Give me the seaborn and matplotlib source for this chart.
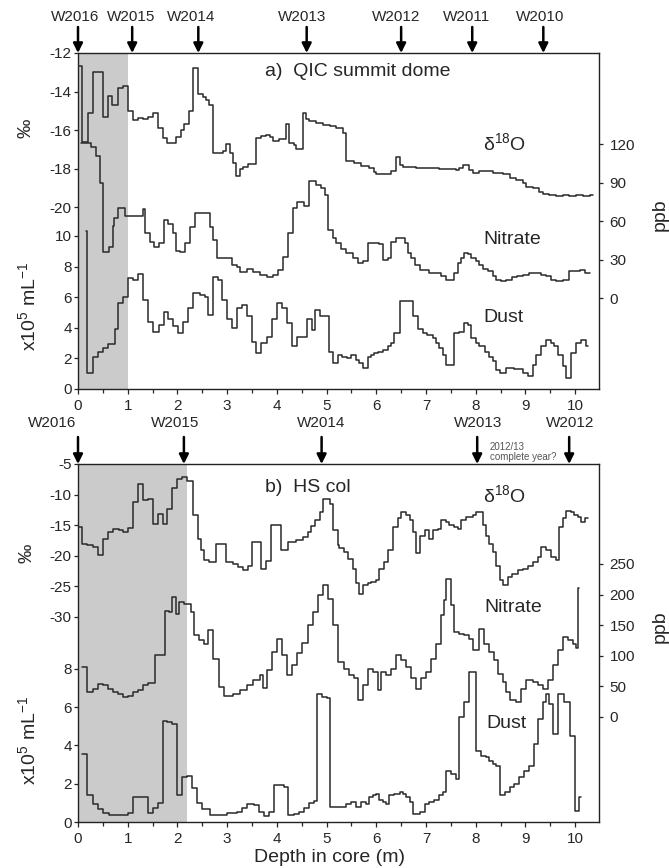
import numpy as np
import pandas as pd
import matplotlib
matplotlib.use('Agg')
import matplotlib.pyplot as plt
from matplotlib.ticker import MultipleLocator
import seaborn as sns

sns.set_style('ticks')
plt.rcParams['font.family'] = ['Liberation Sans', 'DejaVu Sans']
plt.rcParams['axes.unicode_minus'] = False
plt.rcParams['mathtext.default'] = 'regular'

# ---- a) QIC summit dome ----
qic_iso_depth = [0.00, 0.08, 0.20, 0.31, 0.51, 0.60, 0.68, 0.80, 0.90, 1.00, 1.10, 1.20, 1.30, 1.40, 1.50,
                 1.60, 1.70, 1.80, 1.97, 2.07, 2.14, 2.24, 2.31, 2.41, 2.51, 2.58, 2.64, 2.71, 2.91, 2.98,
                 3.05, 3.12, 3.18, 3.25, 3.31, 3.41, 3.58, 3.68, 3.78, 3.87, 3.93, 4.05, 4.19, 4.25, 4.35,
                 4.39, 4.52, 4.59, 4.65, 4.79, 4.92, 5.06, 5.19, 5.33, 5.39, 5.55, 5.69, 5.86, 5.96, 6.00,
                 6.30, 6.40, 6.47, 6.53, 6.80, 7.27, 7.60, 7.67, 7.74, 7.87, 7.94, 8.07, 8.34, 8.54, 8.68,
                 8.81, 8.95, 9.01, 9.15, 9.28, 9.35, 9.48, 9.62, 9.75, 9.88, 10.02, 10.15, 10.29]
qic_iso = [-12.7, -16.6, -15.1, -13.0, -15.3, -14.25, -14.7, -13.8, -13.7, -15.0, -15.5, -15.4, -15.45, -15.3, -15.1,
           -15.9, -16.4, -16.7, -16.35, -16.0, -15.7, -15.0, -12.8, -14.15, -14.3, -14.45, -14.7, -17.2, -17.1, -16.75,
           -17.2, -17.7, -18.4, -18.05, -17.9, -17.75, -16.4, -16.3, -16.25, -16.35, -16.55, -16.45, -15.7, -16.7, -16.8,
           -17.0, -15.1, -15.45, -15.55, -15.65, -15.72, -15.8, -15.9, -16.15, -17.6, -17.7, -17.85, -17.95, -18.2, -18.3,
           -18.15, -17.4, -17.8, -17.9, -17.95, -18.05, -18.1, -17.95, -17.8, -18.1, -18.25, -18.15, -18.25, -18.3, -18.5,
           -18.6, -18.75, -18.95, -19.0, -19.2, -19.3, -19.35, -19.45, -19.35, -19.45, -19.4, -19.45, -19.35]
qic_iso_end = 10.36

qic_no3_depth = [0.06, 0.26, 0.36, 0.44, 0.50, 0.63, 0.70, 0.73, 0.80, 0.95, 1.31, 1.35, 1.45, 1.53, 1.62,
                 1.72, 1.82, 1.92, 1.98, 2.05, 2.15, 2.25, 2.35, 2.65, 2.72, 2.79, 3.09, 3.19, 3.26, 3.39,
                 3.53, 3.66, 3.80, 3.93, 4.03, 4.13, 4.23, 4.33, 4.40, 4.55, 4.65, 4.79, 4.89, 4.96, 5.02,
                 5.12, 5.19, 5.29, 5.39, 5.53, 5.63, 5.73, 5.83, 6.06, 6.13, 6.23, 6.30, 6.40, 6.57, 6.63,
                 6.70, 6.77, 6.87, 7.07, 7.30, 7.40, 7.57, 7.64, 7.70, 7.77, 7.84, 7.91, 8.01, 8.07, 8.14,
                 8.24, 8.34, 8.41, 8.51, 8.61, 8.74, 8.84, 8.95, 9.08, 9.31, 9.41, 9.52, 9.62, 9.75, 9.88,
                 10.09, 10.19]
qic_no3 = [121, 118, 111, 90, 36, 40, 56, 62, 70, 64, 69, 51, 44, 40, 43,
           61, 58, 51, 37, 36, 43, 55, 66, 55, 45, 31, 26, 24, 20, 23,
           20, 18, 16, 18, 22, 32, 51, 70, 75, 72, 91, 88, 86, 80, 53,
           47, 43, 38, 35, 31, 27, 29, 43, 42, 30, 31, 44, 47, 43, 35,
           31, 26, 22, 19.5, 17, 14, 19.5, 27, 31, 35, 34, 31, 29, 26, 23,
           21, 17, 14, 13, 14, 16, 17, 18, 19.5, 18, 17, 14, 13, 14, 21,
           22, 19.5]
qic_no3_end = 10.29

qic_dust_depth = [0.17, 0.19, 0.31, 0.41, 0.51, 0.61, 0.74, 0.81, 0.91, 1.01, 1.11, 1.21, 1.31, 1.41, 1.51,
                  1.62, 1.72, 1.82, 1.92, 2.02, 2.12, 2.22, 2.32, 2.45, 2.55, 2.62, 2.72, 2.82, 2.89, 2.99,
                  3.09, 3.19, 3.29, 3.39, 3.49, 3.59, 3.69, 3.80, 3.90, 4.00, 4.10, 4.20, 4.30, 4.40, 4.60,
                  4.70, 4.77, 4.87, 5.05, 5.12, 5.22, 5.32, 5.42, 5.49, 5.59, 5.66, 5.73, 5.83, 5.90, 5.96,
                  6.03, 6.13, 6.23, 6.30, 6.36, 6.47, 6.73, 6.83, 6.93, 7.03, 7.14, 7.20, 7.27, 7.34, 7.40,
                  7.57, 7.67, 7.77, 7.84, 7.91, 8.01, 8.07, 8.18, 8.27, 8.34, 8.41, 8.48, 8.61, 8.78, 8.95,
                  9.05, 9.15, 9.21, 9.31, 9.41, 9.52, 9.58, 9.65, 9.75, 9.82, 9.92, 10.02, 10.12, 10.22]
qic_dust = [10.3, 1.04, 2.1, 2.4, 2.7, 2.95, 3.9, 5.6, 6.0, 7.25, 7.15, 7.5, 5.8, 4.4, 3.7,
            4.2, 5.0, 4.6, 4.1, 3.65, 4.4, 5.3, 6.25, 6.15, 6.0, 4.85, 7.3, 7.15, 5.8, 4.6,
            4.0, 5.3, 5.5, 4.8, 3.1, 2.35, 3.0, 3.4, 4.6, 5.6, 5.3, 4.3, 2.8, 3.4, 4.6,
            3.85, 5.15, 4.8, 2.4, 1.7, 2.2, 2.1, 2.0, 2.25, 1.9, 1.7, 1.35, 2.1, 2.25, 2.35,
            2.45, 2.55, 2.8, 3.0, 3.65, 5.75, 4.75, 3.9, 3.65, 3.55, 3.35, 3.0, 2.7, 2.25, 1.6,
            3.65, 3.7, 4.3, 4.2, 3.35, 3.0, 2.8, 2.45, 2.1, 1.8, 1.25, 1.05, 1.35, 1.3, 1.05,
            0.85, 1.6, 2.25, 2.8, 3.2, 3.0, 2.8, 2.25, 1.5, 0.7, 2.35, 3.0, 3.2, 2.8]
qic_dust_end = 10.25

qic_years = ['W2016', 'W2015', 'W2014', 'W2013', 'W2012', 'W2011', 'W2010']
qic_year_depth = [0.0, 1.09, 2.42, 4.6, 6.5, 7.93, 9.36]

# ---- b) HS col ----
hs_iso_depth = [0.03, 0.09, 0.19, 0.30, 0.40, 0.50, 0.60, 0.70, 0.83, 0.90, 1.00, 1.10, 1.20, 1.30, 1.40,
                1.50, 1.60, 1.70, 1.80, 1.90, 2.00, 2.10, 2.20, 2.31, 2.41, 2.47, 2.54, 2.64, 2.78, 2.98,
                3.11, 3.21, 3.31, 3.41, 3.51, 3.68, 3.78, 3.88, 4.08, 4.22, 4.39, 4.52, 4.62, 4.69, 4.76,
                4.86, 4.92, 5.06, 5.12, 5.22, 5.26, 5.36, 5.43, 5.53, 5.59, 5.66, 5.73, 5.83, 5.90, 6.00,
                6.06, 6.16, 6.23, 6.33, 6.43, 6.50, 6.60, 6.67, 6.73, 6.80, 6.87, 6.97, 7.07, 7.14, 7.24,
                7.30, 7.40, 7.47, 7.57, 7.64, 7.70, 7.81, 7.94, 8.01, 8.14, 8.21, 8.27, 8.34, 8.41, 8.48,
                8.54, 8.64, 8.74, 8.85, 8.95, 9.05, 9.15, 9.25, 9.31, 9.41, 9.52, 9.62, 9.68, 9.75, 9.82,
                9.92, 9.98, 10.05, 10.12, 10.19]
hs_iso = [-15.3, -18.0, -18.3, -18.6, -19.9, -17.2, -16.1, -15.6, -15.8, -16.1, -15.5, -11.2, -8.2, -10.9, -10.7,
          -14.8, -13.1, -14.8, -12.3, -9.0, -7.4, -7.1, -7.7, -13.4, -17.2, -19.1, -20.7, -21.0, -18.0, -21.0,
          -21.3, -21.8, -22.4, -21.6, -17.8, -22.1, -20.9, -15.0, -19.1, -17.8, -17.5, -16.9, -16.1, -15.1, -14.2,
          -12.8, -10.7, -11.5, -15.8, -18.3, -18.8, -19.4, -20.5, -22.1, -24.5, -26.2, -24.8, -24.5, -24.3, -24.0,
          -22.1, -21.0, -19.1, -15.3, -13.9, -12.8, -13.4, -14.2, -16.1, -19.6, -16.7, -15.8, -17.2, -15.8, -15.6,
          -14.2, -14.5, -15.0, -15.3, -15.6, -14.2, -13.7, -13.4, -12.8, -15.0, -16.7, -18.0, -19.4, -21.6, -24.0,
          -24.8, -23.5, -22.9, -22.4, -22.1, -21.6, -21.0, -20.2, -18.6, -19.1, -20.2, -20.7, -15.3, -13.9, -12.6,
          -12.8, -13.4, -13.7, -14.5, -13.9]
hs_iso_end = 10.25

hs_no3_depth = [0.09, 0.18, 0.30, 0.40, 0.50, 0.60, 0.70, 0.80, 0.90, 1.00, 1.10, 1.20, 1.30, 1.40, 1.54,
                1.74, 1.84, 1.90, 1.97, 2.04, 2.14, 2.27, 2.34, 2.44, 2.54, 2.61, 2.71, 2.84, 2.94, 3.12,
                3.26, 3.39, 3.53, 3.66, 3.73, 3.80, 3.90, 4.00, 4.10, 4.20, 4.30, 4.40, 4.50, 4.62, 4.72,
                4.82, 4.92, 5.02, 5.12, 5.22, 5.36, 5.46, 5.56, 5.63, 5.73, 5.83, 5.93, 6.03, 6.10, 6.20,
                6.30, 6.40, 6.50, 6.60, 6.70, 6.80, 6.90, 7.00, 7.10, 7.20, 7.30, 7.37, 7.40, 7.50, 7.57,
                7.67, 7.77, 7.87, 7.94, 8.07, 8.17, 8.27, 8.37, 8.44, 8.54, 8.61, 8.68, 8.81, 8.91, 9.01,
                9.15, 9.25, 9.35, 9.45, 9.55, 9.65, 9.75, 9.85, 9.95, 10.02, 10.06]
hs_no3 = [82, 41, 46, 54, 52, 46, 41, 38, 33, 35, 41, 44, 52, 55, 101,
          174, 172, 196, 169, 188, 185, 172, 134, 125, 120, 142, 95, 49, 35, 38,
          44, 52, 60, 69, 47, 77, 106, 128, 101, 69, 85, 104, 121, 150, 172,
          199, 215, 193, 150, 90, 79, 68, 63, 27, 52, 79, 74, 44, 74, 68,
          79, 101, 93, 82, 63, 46, 63, 74, 95, 120, 166, 191, 226, 183, 139,
          136, 134, 128, 109, 144, 120, 106, 93, 71, 57, 41, 27, 25, 46, 60,
          57, 52, 46, 60, 85, 109, 131, 125, 120, 112, 210]
hs_no3_end = 10.08

hs_dust_depth = [0.09, 0.18, 0.30, 0.40, 0.50, 0.63, 1.00, 1.10, 1.40, 1.50, 1.60, 1.70, 1.80, 1.90, 2.00,
                 2.10, 2.20, 2.30, 2.40, 2.50, 2.65, 3.00, 3.20, 3.30, 3.40, 3.55, 3.65, 3.75, 3.85, 3.95,
                 4.15, 4.22, 4.35, 4.45, 4.55, 4.65, 4.75, 4.80, 4.90, 5.00, 5.06, 5.39, 5.49, 5.59, 5.69,
                 5.79, 5.86, 5.93, 6.00, 6.06, 6.13, 6.20, 6.26, 6.36, 6.47, 6.53, 6.60, 6.67, 6.73, 6.87,
                 6.97, 7.07, 7.17, 7.27, 7.34, 7.40, 7.50, 7.60, 7.67, 7.77, 7.87, 8.01, 8.11, 8.21, 8.27,
                 8.34, 8.41, 8.48, 8.58, 8.68, 8.78, 8.88, 8.98, 9.08, 9.18, 9.25, 9.35, 9.41, 9.48, 9.55,
                 9.65, 9.78, 9.90, 10.00, 10.07]
hs_dust = [3.55, 1.4, 0.95, 0.7, 0.45, 0.35, 0.45, 1.3, 0.47, 0.73, 1.0, 5.3, 5.2, 5.1, 1.4,
           2.34, 2.4, 1.77, 1.0, 0.7, 0.36, 0.45, 0.5, 0.73, 0.96, 0.9, 0.5, 0.3, 0.5, 1.93,
           1.85, 0.36, 0.4, 0.5, 0.73, 1.0, 1.1, 6.67, 6.55, 6.5, 0.78, 0.95, 1.04, 0.78, 1.04,
           0.95, 1.3, 1.39, 1.48, 1.13, 1.04, 0.95, 1.39, 1.48, 1.56, 1.48, 1.3, 1.04, 0.43, 0.52,
           0.95, 1.04, 1.13, 1.39, 1.56, 2.69, 2.52, 2.26, 5.47, 6.25, 7.81, 3.73, 3.47, 3.39, 3.21,
           3.04, 2.95, 1.39, 1.56, 1.82, 1.99, 2.34, 2.69, 2.95, 4.08, 5.38, 6.25, 6.68, 6.16, 4.6,
           6.68, 6.25, 4.51, 0.55, 1.3]
hs_dust_end = 10.12

hs_years = ['W2016', 'W2015', 'W2014', 'W2013', 'W2012']
hs_year_depth = [0.0, 2.13, 4.9, 8.03, 9.88]

LINE = '#2a2a2a'
W, H = 669, 868


def px(x, y):
    return x / W, 1 - y / H


def trace(ax, depth, vals, end):
    x = list(depth) + [end]
    y = list(vals) + [vals[-1]]
    sns.lineplot(x=x, y=y, ax=ax, drawstyle='steps-post', estimator=None, sort=False,
                 color=LINE, lw=1.1)


def style_ticks(a, side):
    a.tick_params(axis='y', which='both', direction='out', length=3, width=0.9,
                  labelsize=11, pad=1.5 if side == 'left' else 4.5)


def panel(top, bottom, shade, iso_lim, iso_ticks, dust_lim, dust_ticks, no3_lim, no3_ticks):
    ax = fig.add_axes([78 / W, 1 - bottom / H, 521 / W, (bottom - top) / H])
    ax.set_xlim(0, 10.48)
    ax.axvspan(0, shade, color='#cbcbcb', lw=0, zorder=0)
    ax.set_ylim(*dust_lim)
    ax.set_yticks(dust_ticks)
    ax.set_xticks(range(11))
    ax.xaxis.set_minor_locator(MultipleLocator(0.5))
    ax.tick_params(axis='x', which='major', direction='out', length=3.5, width=0.9, labelsize=11, pad=4)
    ax.tick_params(axis='x', which='minor', direction='out', length=3, width=0.9)
    style_ticks(ax, 'left')
    for s in ax.spines.values():
        s.set_linewidth(1.0)
        s.set_color('#222222')

    ax_iso = ax.twinx()
    ax_iso.yaxis.tick_left()
    ax_iso.set_ylim(*iso_lim)
    ax_iso.set_yticks(iso_ticks)
    style_ticks(ax_iso, 'left')
    for s in ax_iso.spines.values():
        s.set_visible(False)

    ax_no3 = ax.twinx()
    ax_no3.set_ylim(*no3_lim)
    ax_no3.set_yticks(no3_ticks)
    style_ticks(ax_no3, 'right')
    for s in ax_no3.spines.values():
        s.set_visible(False)
    return ax, ax_iso, ax_no3


def year_arrows(ax, names, depths, label_dy, arrow_dy, label_shift):
    tr = ax.get_xaxis_transform()
    for name, d, sh in zip(names, depths, label_shift):
        ax.annotate('', xy=(d, 1.0), xycoords=tr, xytext=(d, 1 + arrow_dy), textcoords=tr,
                    arrowprops=dict(arrowstyle='-|>', color='black', lw=1.8, mutation_scale=14,
                                    shrinkA=0, shrinkB=0), annotation_clip=False)
        ax.text(d + sh, 1 + label_dy, name, transform=tr, ha='center', va='center', fontsize=11)


fig = plt.figure(figsize=(W / 100, H / 100), dpi=100)

# panel a
a, a_iso, a_no3 = panel(53, 389, 1.0,
                        (-29.45, -12), [-20, -18, -16, -14, -12],
                        (0, 21.96), [0, 2, 4, 6, 8, 10],
                        (-70.9, 190.96), [0, 30, 60, 90, 120])
trace(a_iso, qic_iso_depth, qic_iso, qic_iso_end)
trace(a_no3, qic_no3_depth, qic_no3, qic_no3_end)
trace(a, qic_dust_depth, qic_dust, qic_dust_end)
year_arrows(a, qic_years, qic_year_depth, 36 / 336, 26 / 336, [-0.06, -0.02, -0.15, -0.1, -0.1, -0.12, -0.06])

# panel b
b, b_iso, b_no3 = panel(464, 822, 2.2,
                        (-63.5, -5), [-30, -25, -20, -15, -10, -5],
                        (0, 18.7), [0, 2, 4, 6, 8],
                        (-171.6, 413.4), [0, 50, 100, 150, 200, 250])
trace(b_iso, hs_iso_depth, hs_iso, hs_iso_end)
trace(b_no3, hs_no3_depth, hs_no3, hs_no3_end)
trace(b, hs_dust_depth, hs_dust, hs_dust_end)
year_arrows(b, hs_years, hs_year_depth, 41 / 358, 27 / 358, [-0.52, -0.18, 0.0, 0.02, 0.02])
b.text(8.28, 1 + 12 / 358, '2012/13\ncomplete year?', transform=b.get_xaxis_transform(),
       ha='left', va='center', fontsize=7, color='#555555', linespacing=1.05)

# labels
fs = 14
fig.text(*px(265, 72), 'a)  QIC summit dome', fontsize=fs, ha='left', va='center')
fig.text(*px(483, 143), 'δ$^{18}$O', fontsize=fs, ha='left', va='center')
fig.text(*px(483, 239), 'Nitrate', fontsize=fs, ha='left', va='center')
fig.text(*px(483, 317), 'Dust', fontsize=fs, ha='left', va='center')
fig.text(*px(265, 487), 'b)  HS col', fontsize=fs, ha='left', va='center')
fig.text(*px(483, 495), 'δ$^{18}$O', fontsize=fs, ha='left', va='center')
fig.text(*px(484, 607), 'Nitrate', fontsize=fs, ha='left', va='center')
fig.text(*px(486, 724), 'Dust', fontsize=fs, ha='left', va='center')

fig.text(*px(26, 128), '‰', fontsize=fs, rotation=90, ha='center', va='center')
fig.text(*px(28, 306), 'x10$^5$ mL$^{-1}$', fontsize=fs, rotation=90, ha='center', va='center')
fig.text(*px(660, 215), 'ppb', fontsize=fs, rotation=90, ha='center', va='center')
fig.text(*px(27, 553), '‰', fontsize=fs, rotation=90, ha='center', va='center')
fig.text(*px(28, 740), 'x10$^5$ mL$^{-1}$', fontsize=fs, rotation=90, ha='center', va='center')
fig.text(*px(660, 627), 'ppb', fontsize=fs, rotation=90, ha='center', va='center')
fig.text(*px(329, 857), 'Depth in core (m)', fontsize=fs, ha='center', va='center')

fig.savefig('out.png', dpi=100, facecolor='white')
